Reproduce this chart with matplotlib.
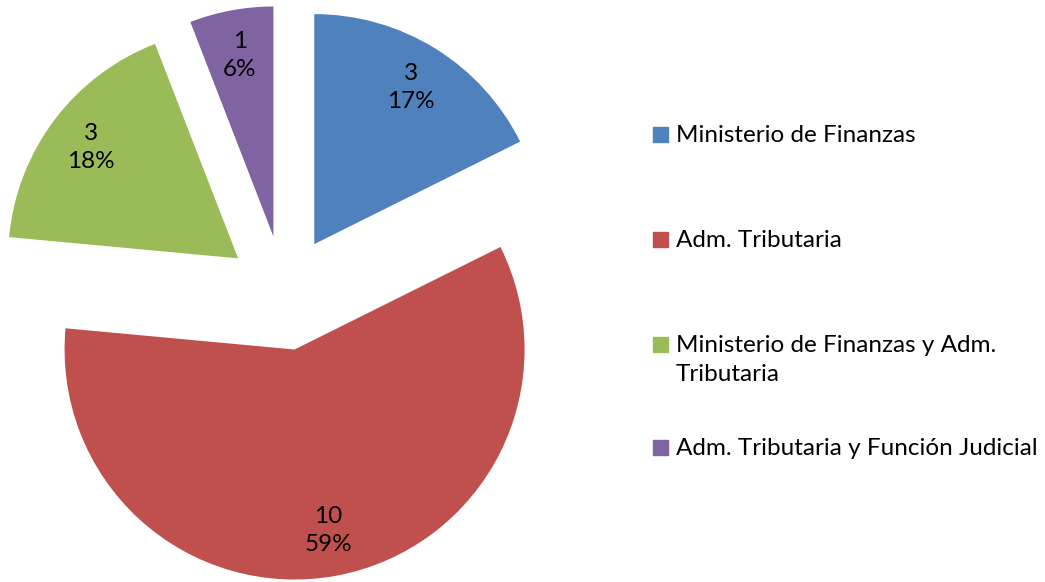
import matplotlib
matplotlib.use("Agg")
import matplotlib.pyplot as plt
from matplotlib.patches import Rectangle
import numpy as np

categories = ["Ministerio de Finanzas", "Adm. Tributaria",
              "Ministerio de Finanzas y Adm.\nTributaria",
              "Adm. Tributaria y Función Judicial"]
values = [3, 10, 3, 1]
pct_labels = ["17%", "59%", "18%", "6%"]
colors = ["#4F81BD", "#C0504D", "#9BBB59", "#8064A2"]

plt.rcParams['font.family'] = ['Lato', 'DejaVu Sans']

W, H = 1045, 582
fig = plt.figure(figsize=(W / 100, H / 100), dpi=100)
ax = fig.add_axes([0, 0, 1, 1])

R_PX = 230.0
cx_px, cy_px = 284.0, 293.0  # from top

wedges, texts, autotexts = ax.pie(
    values, colors=colors, startangle=90, counterclock=False,
    explode=[0.25] * len(values), radius=1.0,
    autopct=lambda p: "", pctdistance=0.8,
    wedgeprops=dict(linewidth=0),
)
for t, v, p in zip(autotexts, values, pct_labels):
    t.set_text(f"{v}\n{p}")
    t.set_fontsize(17.5)
    t.set_color("black")
    t.set_linespacing(1.45)

ax.set_aspect('auto')
ax.set_xlim(-cx_px / R_PX, (W - cx_px) / R_PX)
ax.set_ylim(-(H - cy_px) / R_PX, cy_px / R_PX)
ax.axis('off')

# legend
leg_tops = [135, 240, 345, 448]
for c, lab, y in zip(colors, categories, leg_tops):
    fig.patches.append(Rectangle(((653) / W, 1 - (y + 7) / H), 15 / W, 15 / H,
                                 transform=fig.transFigure, color=c, figure=fig))
    fig.text(676 / W, 1 - (y - 10) / H, lab, ha='left', va='top', fontsize=17.5,
             linespacing=1.45, color='black')

fig.savefig("out.png", dpi=100)
